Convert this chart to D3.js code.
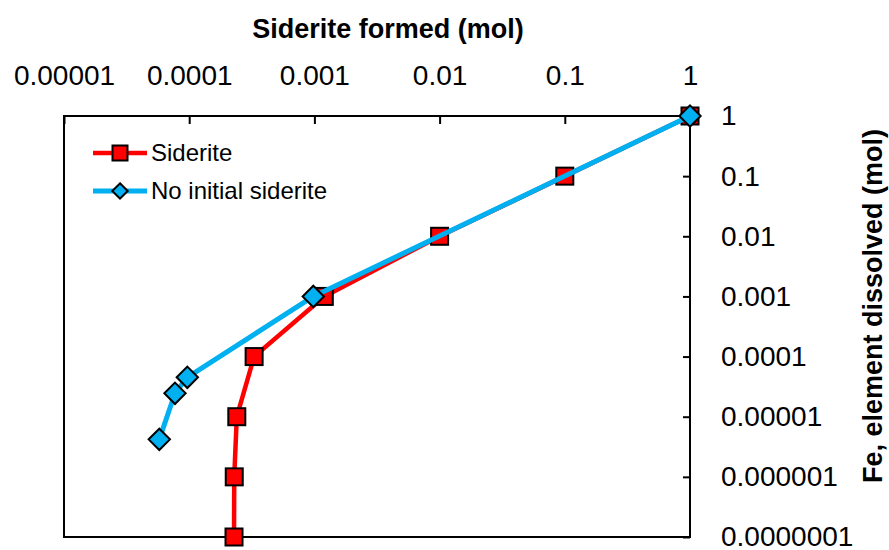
<!doctype html>
<html lang="en">
<head>
<meta charset="utf-8">
<title>Siderite formed vs Fe dissolved</title>
<script src="https://d3js.org/d3.v7.min.js"></script>
<style>
body { margin: 0; background: #fff; }
svg text { font-family: "Liberation Sans", Arial, sans-serif; fill: #000; }
.tick text { font-size: 28px; }
.tick line { stroke: #000; stroke-width: 2; }
.domain { display: none; }
.ttl { font-size: 27px; font-weight: bold; }
.leg { font-size: 24px; }
</style>
</head>
<body>
<div id="chart"></div>
<script>
// data (x = siderite formed, y = Fe dissolved, mol)
var sideriteX = [1, 0.1, 0.01, 0.0012, 0.00033, 0.00024, 0.000229, 0.000228];
var sideriteY = [1, 0.1, 0.01, 0.001, 0.0001, 0.00001, 0.000001, 0.0000001];
var noInitX = [1, 0.00098, 0.0000966, 0.000077, 0.0000577];
var noInitY = [1, 0.001, 0.0000452, 0.0000245, 0.0000042];

var xTicks = [0.00001, 0.0001, 0.001, 0.01, 0.1, 1];
var xLabels = ["0.00001", "0.0001", "0.001", "0.01", "0.1", "1"];
var yTicks = [1, 0.1, 0.01, 0.001, 0.0001, 0.00001, 0.000001, 0.0000001];
var yLabels = ["1", "0.1", "0.01", "0.001", "0.0001", "0.00001", "0.000001", "0.0000001"];

var W = 889, H = 550;
var pLeft = 64, pRight = 690, pTop = 116, pBottom = 537;

var svg = d3.select("#chart").append("svg")
    .attr("width", W).attr("height", H);

var x = d3.scaleLog().domain([0.00001, 1]).range([pLeft, pRight]);
var y = d3.scaleLog().domain([0.0000001, 1]).range([pBottom, pTop]);

// frame
svg.append("rect")
    .attr("x", pLeft).attr("y", pTop)
    .attr("width", pRight - pLeft).attr("height", pBottom - pTop)
    .attr("fill", "none").attr("stroke", "#000").attr("stroke-width", 2);

// top axis
svg.append("g")
    .attr("transform", "translate(0," + pTop + ")")
    .call(d3.axisTop(x).tickValues(xTicks)
        .tickFormat(function(d, i) { return xLabels[i]; })
        .tickSize(-8).tickPadding(31));

// right axis
svg.append("g")
    .attr("transform", "translate(" + pRight + ",0)")
    .call(d3.axisRight(y).tickValues(yTicks)
        .tickFormat(function(d, i) { return yLabels[i]; })
        .tickSize(-7).tickPadding(31));

svg.selectAll(".tick text").attr("font-family", null).attr("font-size", null);

// titles
svg.append("text").attr("class", "ttl")
    .attr("x", 388).attr("y", 38)
    .attr("text-anchor", "middle")
    .text("Siderite formed (mol)");

svg.append("text").attr("class", "ttl")
    .attr("transform", "translate(882,306) rotate(-90)")
    .attr("text-anchor", "middle")
    .text("Fe, element dissolved (mol)");

var line = d3.line()
    .x(function(d) { return x(d[0]); })
    .y(function(d) { return y(d[1]); });

var sid = d3.zip(sideriteX, sideriteY);
var noi = d3.zip(noInitX, noInitY);

// siderite series
svg.append("path").datum(sid)
    .attr("d", line)
    .attr("fill", "none").attr("stroke", "#ff0000")
    .attr("stroke-width", 4.5).attr("stroke-linejoin", "round");

var sq = 17;
svg.selectAll(".sq").data(sid).enter().append("rect")
    .attr("class", "sq")
    .attr("x", function(d) { return x(d[0]) - sq / 2; })
    .attr("y", function(d) { return y(d[1]) - sq / 2; })
    .attr("width", sq).attr("height", sq)
    .attr("fill", "#ff0000").attr("stroke", "#000").attr("stroke-width", 2);

// no initial siderite series
svg.append("path").datum(noi)
    .attr("d", line)
    .attr("fill", "none").attr("stroke", "#00b0f0")
    .attr("stroke-width", 5).attr("stroke-linejoin", "round");

var diamond = d3.symbol().type(d3.symbolDiamond2).size(290);
svg.selectAll(".dm").data(noi).enter().append("path")
    .attr("class", "dm")
    .attr("transform", function(d) { return "translate(" + x(d[0]) + "," + y(d[1]) + ")"; })
    .attr("d", diamond)
    .attr("fill", "#00b0f0").attr("stroke", "#000").attr("stroke-width", 2);

// legend
var leg = svg.append("g");
leg.append("line").attr("x1", 93).attr("x2", 147).attr("y1", 153).attr("y2", 153)
    .attr("stroke", "#ff0000").attr("stroke-width", 4.5);
leg.append("rect").attr("x", 120 - 7.5).attr("y", 153 - 7.5)
    .attr("width", 15).attr("height", 15)
    .attr("fill", "#ff0000").attr("stroke", "#000").attr("stroke-width", 2);
leg.append("text").attr("class", "leg").attr("x", 151).attr("y", 161).text("Siderite");

leg.append("line").attr("x1", 93).attr("x2", 147).attr("y1", 191).attr("y2", 191)
    .attr("stroke", "#00b0f0").attr("stroke-width", 5);
leg.append("path").attr("transform", "translate(120,191)")
    .attr("d", d3.symbol().type(d3.symbolDiamond2).size(150))
    .attr("fill", "#00b0f0").attr("stroke", "#000").attr("stroke-width", 2);
leg.append("text").attr("class", "leg").attr("x", 151).attr("y", 199).text("No initial siderite");
</script>
</body>
</html>
